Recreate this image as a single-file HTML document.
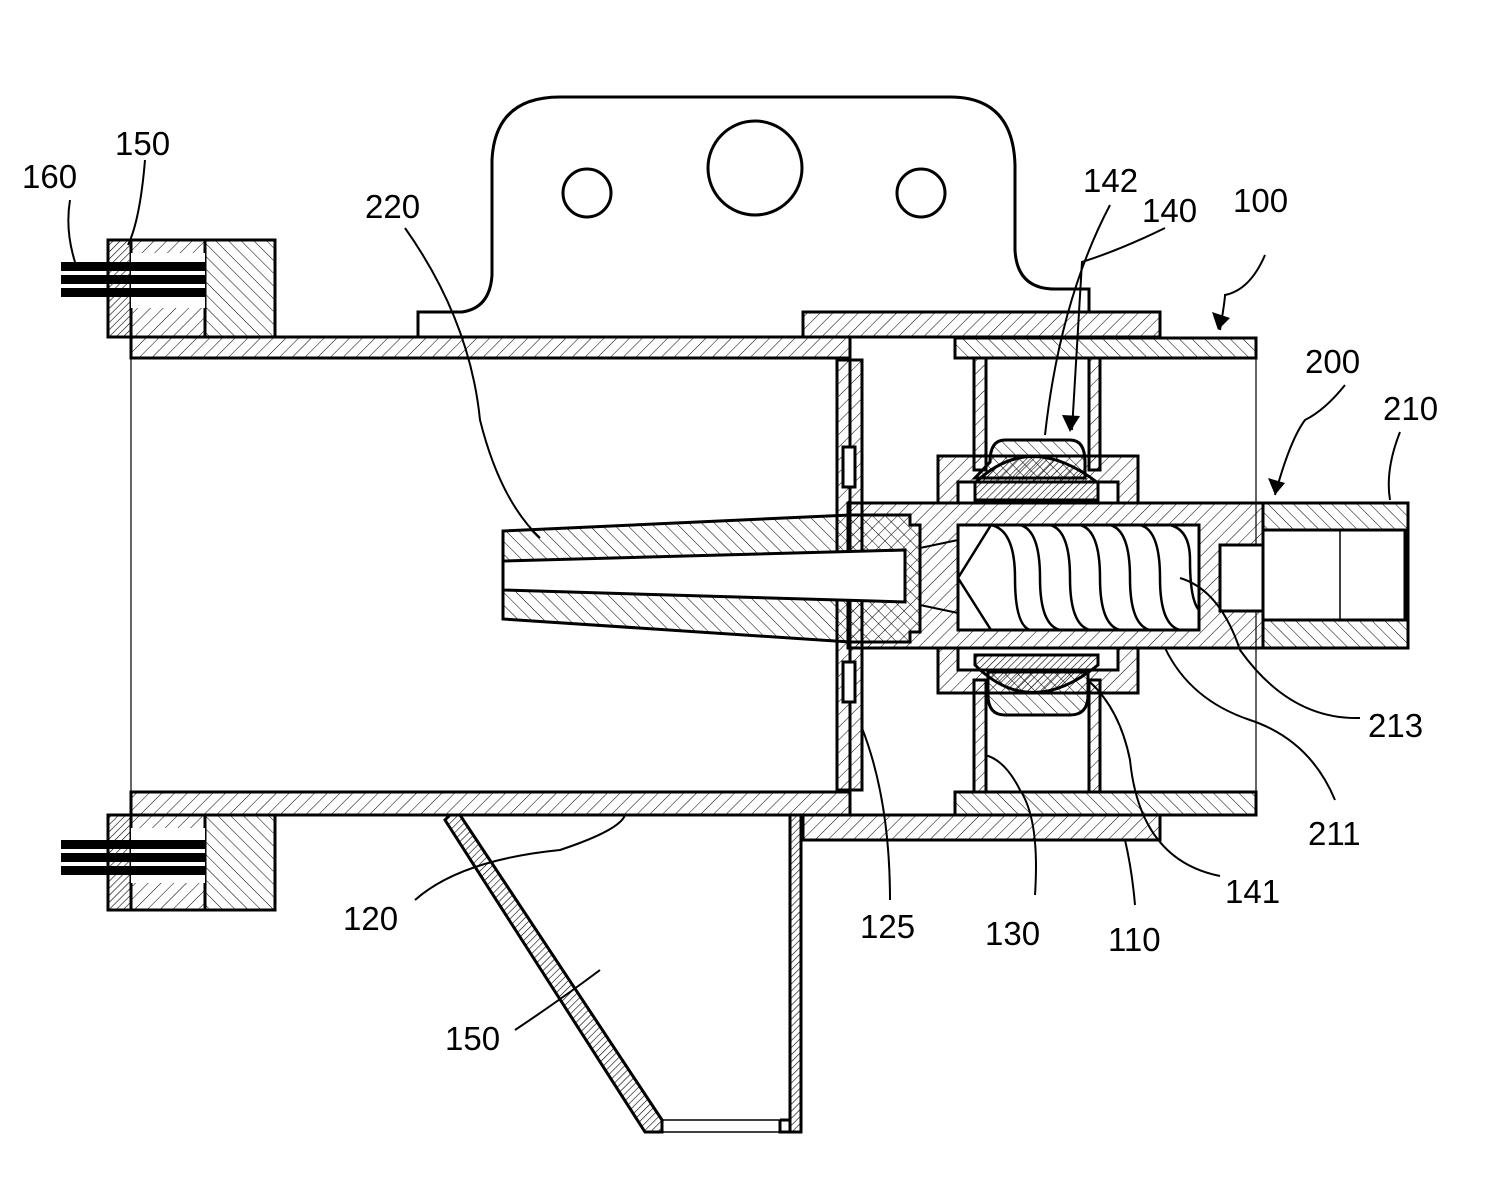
<!DOCTYPE html>
<html><head><style>body{margin:0;background:#fff}svg{display:block}text{font-family:"Liberation Sans",sans-serif;font-size:33px;fill:#000}</style></head><body>
<svg width="1500" height="1177" viewBox="0 0 1500 1177" xmlns="http://www.w3.org/2000/svg">
<defs>
<pattern id="h1" width="9" height="9" patternUnits="userSpaceOnUse" patternTransform="rotate(45)"><line x1="0" y1="0" x2="0" y2="9" stroke="#000" stroke-width="1"/></pattern>
<pattern id="h2" width="9" height="9" patternUnits="userSpaceOnUse" patternTransform="rotate(-45)"><line x1="0" y1="0" x2="0" y2="9" stroke="#000" stroke-width="1"/></pattern>
<pattern id="h3" width="5" height="5" patternUnits="userSpaceOnUse" patternTransform="rotate(45)"><line x1="0" y1="0" x2="0" y2="5" stroke="#000" stroke-width="1.2"/></pattern>
</defs>
<g stroke="#000" stroke-width="3" fill="none">
<path d="M418,337 L418,312 L462,312 Q490,308 492,275 L492,160 Q495,97 560,97 L950,97 Q1013,97 1015,165 L1015,250 Q1017,289 1055,289 L1089,289 L1089,312"/>
<circle cx="587" cy="193" r="24"/><circle cx="755" cy="168" r="47"/><circle cx="921" cy="193" r="24"/>
<rect x="803" y="312" width="357" height="25" fill="url(#h1)"/>
<rect x="803" y="815" width="357" height="25" fill="url(#h1)"/>
<rect x="131" y="337" width="719" height="21" fill="url(#h1)"/>
<rect x="131" y="792" width="719" height="23" fill="url(#h1)"/>
<line x1="131" y1="358" x2="131" y2="792" stroke-width="1.2"/>
<line x1="850" y1="337" x2="850" y2="815"/>
<rect x="108" y="240" width="23" height="97" fill="url(#h3)"/>
<rect x="131" y="240" width="74" height="97" fill="url(#h1)"/>
<rect x="205" y="240" width="70" height="97" fill="url(#h2)"/>
<rect x="108" y="815" width="23" height="95" fill="url(#h3)"/>
<rect x="131" y="815" width="74" height="95" fill="url(#h1)"/>
<rect x="205" y="815" width="70" height="95" fill="url(#h2)"/>
<rect x="131" y="253" width="74" height="55" fill="#fff" stroke="none"/>
<rect x="131" y="828" width="74" height="55" fill="#fff" stroke="none"/>
</g>
<g fill="#000">
<rect x="61" y="262" width="144" height="9"/><rect x="61" y="275" width="144" height="9"/><rect x="61" y="288" width="144" height="9"/>
<rect x="61" y="840" width="144" height="9"/><rect x="61" y="853" width="144" height="9"/><rect x="61" y="866" width="144" height="9"/>
</g>
<g stroke="#000" stroke-width="3" fill="none">
<rect x="837" y="360" width="25" height="430" fill="url(#h1)"/>
<rect x="843" y="447" width="12" height="40" fill="#fff"/>
<rect x="843" y="662" width="12" height="40" fill="#fff"/>
<rect x="955" y="338" width="301" height="20" fill="url(#h2)"/>
<rect x="955" y="792" width="301" height="23" fill="url(#h2)"/>
<line x1="1256" y1="358" x2="1256" y2="792" stroke-width="1.2"/>
<rect x="974" y="358" width="12" height="112" fill="url(#h1)"/>
<rect x="1089" y="358" width="11" height="112" fill="url(#h1)"/>
<rect x="974" y="680" width="12" height="112" fill="url(#h1)"/>
<rect x="1089" y="680" width="11" height="112" fill="url(#h1)"/>
<rect x="938" y="456" width="200" height="47" fill="url(#h1)"/>
<rect x="938" y="648" width="200" height="45" fill="url(#h1)"/>
<rect x="958" y="482" width="160" height="21" fill="#fff"/>
<rect x="958" y="648" width="160" height="22" fill="#fff"/>
<path d="M990,462 Q990,440 1005,440 L1070,440 Q1085,440 1085,462 L1085,478 L975,478 Z" fill="url(#h2)"/>
<path d="M975,483 Q1030,430 1098,483 L1098,500 L975,500 Z" fill="url(#h3)"/>
<path d="M975,655 L1098,655 L1098,665 Q1030,720 975,665 Z" fill="url(#h3)"/>
<path d="M988,672 L1088,672 L1088,695 Q1088,715 1070,715 L1005,715 Q988,715 988,695 Z" fill="url(#h2)"/>
<rect x="848" y="503" width="415" height="145" fill="url(#h1)"/>
<rect x="958" y="525" width="241" height="105" fill="#fff"/>
<rect x="1220" y="545" width="43" height="66" fill="#fff"/>
<path d="M991,525 L958,578 L991,630" stroke-width="2.5"/>
<path d="M991,525 Q1015,530 1015,578 Q1015,625 1030,630 M1020,525 Q1040,530 1040,578 Q1040,625 1060,630 M1050,525 Q1070,530 1070,578 Q1070,625 1090,630 M1080,525 Q1100,530 1100,578 Q1100,625 1120,630 M1110,525 Q1130,530 1130,578 Q1130,625 1150,630 M1140,525 Q1160,530 1160,578 Q1160,625 1180,630 M1170,525 Q1190,530 1190,560 Q1190,600 1199,610" stroke-width="2.5"/>
<rect x="1263" y="503" width="145" height="145" fill="url(#h2)"/>
<rect x="1263" y="530" width="142" height="90" fill="#fff"/>
<line x1="1340" y1="530" x2="1340" y2="620" stroke-width="1.5"/>
<path d="M503,531 L850,515 L910,515 L910,525 L920,525 L920,632 L910,632 L910,642 L850,642 L503,619 Z" fill="url(#h2)"/>
<path d="M503,561 L905,550 L905,602 L503,590 Z" fill="#fff"/>
<path d="M920,548 L958,540 M920,605 L958,613" stroke-width="2"/>
<path d="M450,815 L460,815 L662,1120 L662,1132 L645,1132 L445,820 Z" fill="url(#h3)"/>
<rect x="790" y="815" width="11" height="317" fill="url(#h3)"/>
<path d="M780,1120 L790,1120 M780,1120 L780,1132 L790,1132"/>
<line x1="662" y1="1120" x2="780" y2="1120" stroke-width="1.5"/>
<line x1="662" y1="1132" x2="780" y2="1132" stroke-width="1.5"/>
</g>
<g stroke="#000" stroke-width="2" fill="none">
<path d="M70,200 Q65,230 75,262"/>
<path d="M145,160 Q140,220 128,245"/>
<path d="M405,228 Q470,320 480,420 Q500,500 540,538"/>
<path d="M1110,205 Q1060,300 1045,435"/>
<path d="M1165,228 Q1120,250 1082,262 L1072,430"/>
<path d="M1265,255 Q1250,290 1225,295 Q1225,300 1220,330"/>
<path d="M1345,385 Q1325,410 1305,420 Q1290,440 1275,495"/>
<path d="M1400,432 Q1385,470 1390,500"/>
<path d="M1360,718 Q1290,720 1240,650 Q1220,590 1180,578"/>
<path d="M1335,800 Q1310,740 1250,720 Q1190,700 1165,648"/>
<path d="M1220,876 Q1140,860 1130,760 Q1120,710 1090,682"/>
<path d="M1035,895 Q1040,820 1020,790 Q1005,760 985,755"/>
<path d="M1135,905 Q1132,870 1125,840"/>
<path d="M890,900 Q890,800 862,728"/>
<path d="M415,900 Q460,860 560,850 Q620,830 625,815"/>
<path d="M515,1030 Q560,1000 600,970"/>
</g>
<g fill="#000">
<path d="M1218,330 L1212,312 L1230,318 Z"/>
<path d="M1275,495 L1268,478 L1285,483 Z"/>
<path d="M1070,432 L1062,415 L1080,416 Z"/>
</g>
<text x="22" y="188">160</text>
<text x="115" y="155">150</text>
<text x="365" y="218">220</text>
<text x="1083" y="192">142</text>
<text x="1142" y="222">140</text>
<text x="1233" y="212">100</text>
<text x="1305" y="373">200</text>
<text x="1383" y="420">210</text>
<text x="1368" y="737">213</text>
<text x="1308" y="845">211</text>
<text x="1225" y="903">141</text>
<text x="1108" y="951">110</text>
<text x="985" y="945">130</text>
<text x="860" y="938">125</text>
<text x="343" y="930">120</text>
<text x="445" y="1050">150</text>
</svg>
</body></html>
